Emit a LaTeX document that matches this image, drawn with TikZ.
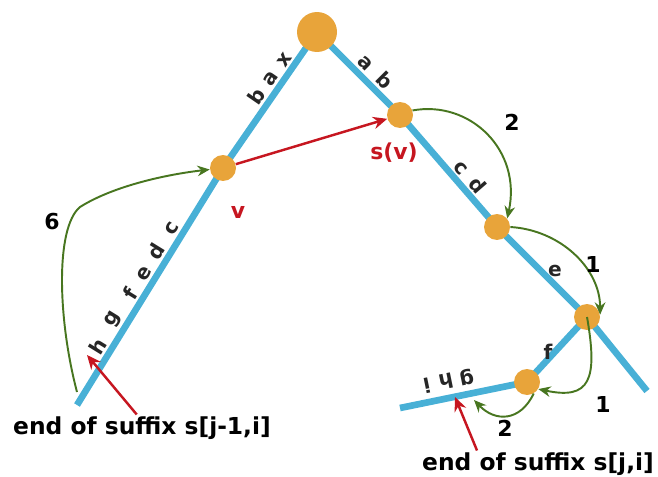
\documentclass[tikz,border=0pt]{standalone}
\usepackage{fontspec}
\setmainfont{DejaVu Sans}
\usepackage{tikz}
\usetikzlibrary{arrows.meta, backgrounds}
\definecolor{edge_blue}{RGB}{72, 176, 214}
\definecolor{vert_orange}{RGB}{232, 164, 58}
\definecolor{walk_green}{RGB}{72, 118, 32}
\definecolor{link_red}{RGB}{198, 22, 32}

\begin{document}
\begin{tikzpicture}[x=0.02cm, y=-0.02cm, >=Stealth,
      vert/.style={circle, fill=vert_orange, minimum size=5.2mm, inner sep=0pt},
      rootvert/.style={vert, minimum size=8mm},
      treeedge/.style={draw=edge_blue, line width=3.8pt},
      letter/.style={font=\fontsize{11.5}{13}\selectfont\bfseries, text=black!85, inner sep=1pt},
      walk/.style={draw=walk_green, line width=1.1pt, -{Stealth[length=7pt, width=6pt]}},
      slink/.style={draw=link_red, line width=1.4pt, -{Stealth[length=8pt, width=7pt]}},
      num/.style={font=\fontsize{12.5}{14}\selectfont\bfseries, inner sep=1pt},
      redlbl/.style={num, text=link_red},
      caption/.style={font=\fontsize{13.3}{15}\selectfont\bfseries, inner sep=1pt}]

    \useasboundingbox (0,0) rectangle (658,476);

    %% ---- vertices --------------------------------------------------------
    \node[rootvert] (root) at (317, 32) {};
    \node[vert]     (v)    at (223,168) {};
    \node[vert]     (sv)   at (400,115) {};
    \node[vert]     (n1)   at (497,227) {};
    \node[vert]     (n2)   at (587,317) {};
    \node[vert]     (n3)   at (527,382) {};

    \coordinate (lend) at (77,405);
    \coordinate (rend) at (647,391);
    \coordinate (bend) at (400,408);

    %% ---- tree edges ------------------------------------------------------
    \begin{scope}[on background layer]
      \draw[treeedge] (root.center) -- (v.center) -- (lend);
      \draw[treeedge] (root.center) -- (sv.center) -- (n1.center) -- (n2.center) -- (rend);
      \draw[treeedge] (n2.center) -- (n3.center) -- (bend);
    \end{scope}

    %% ---- edge letters ----------------------------------------------------
    \path (v.center) -- (root.center)
      node[letter, sloped, above=2pt, pos=0.47] (lbb) {b}
      node[letter, sloped, above=2pt, pos=0.61] (lba) {a}
      node[letter, sloped, above=2pt, pos=0.75] (lbx) {x};
    \foreach \ch/\p in {h/0.22, g/0.33, f/0.44, e/0.53, d/0.62, c/0.72}
      \path (lend) -- (v.center) node[letter, sloped, above=2pt, pos=\p] (lbl\ch) {\ch};

    \path (root.center) -- (sv.center)
      node[letter, sloped, above=2.5pt, pos=0.48] (rba) {a}
      node[letter, sloped, above=2pt, pos=0.70] (rbb) {b};
    \path (sv.center) -- (n1.center)
      node[letter, sloped, above=2pt, pos=0.54] (rbc) {c}
      node[letter, sloped, above=2pt, pos=0.70] (rbd) {d};
    \node[letter] (rbe) at (555,271) {e};
    \node[letter] (rbf) at (548,352) {f};
    \path (n3.center) -- (bend)
      node[letter, sloped, allow upside down, below=4pt, pos=0.45] (rbg) {g}
      node[letter, sloped, allow upside down, below=4pt, pos=0.61] (rbh) {h}
      node[letter, sloped, allow upside down, below=4pt, pos=0.76] (rbi) {i};

    %% ---- suffix link and markers -----------------------------------------
    \draw[slink] (v) -- (sv);
    \node[redlbl] (lbv)  at (238,212) {v};
    \node[redlbl] (lbsv) at (394,153) {s(v)};

    \node[caption] (endprev) at (142,428) {end of suffix s[j-1,i]};
    \node[caption] (endcur)  at (538,464) {end of suffix s[j,i]};

    \coordinate (hmark) at (87,355);
    \coordinate (imark) at (455,397);
    \draw[slink] ([xshift=-3pt]endprev.north) -- (hmark);
    \draw[slink] ([xshift=-1.22cm]endcur.north) -- (imark);

    %% ---- walk with skip counts -------------------------------------------
    \coordinate (walkstart) at (77,392);
    \coordinate (walkend)   at (474,400);
    \draw[walk] (walkstart) .. controls (58,320) and (55,228) .. (80,207)
                .. controls (115,185) and (170,174) .. (v);
    \draw[walk] (sv.20) .. controls (470,100) and (522,150) .. (n1.40);
    \draw[walk] (n1.east) .. controls (560,230) and (600,268) .. (n2.10);
    \draw[walk] (n2.center) .. controls (598,380) and (590,400) .. (n3.-32);
    \draw[walk] (n3.-60) .. controls (520,422) and (495,422) .. (walkend);

    \node[num] (cnt6)  at (52,222)  {6};
    \node[num] (cnt2a) at (512,122) {2};
    \node[num] (cnt1a) at (593,264) {1};
    \node[num] (cnt1b) at (603,404) {1};
    \node[num] (cnt2b) at (505,428) {2};
  \end{tikzpicture}
\end{document}
